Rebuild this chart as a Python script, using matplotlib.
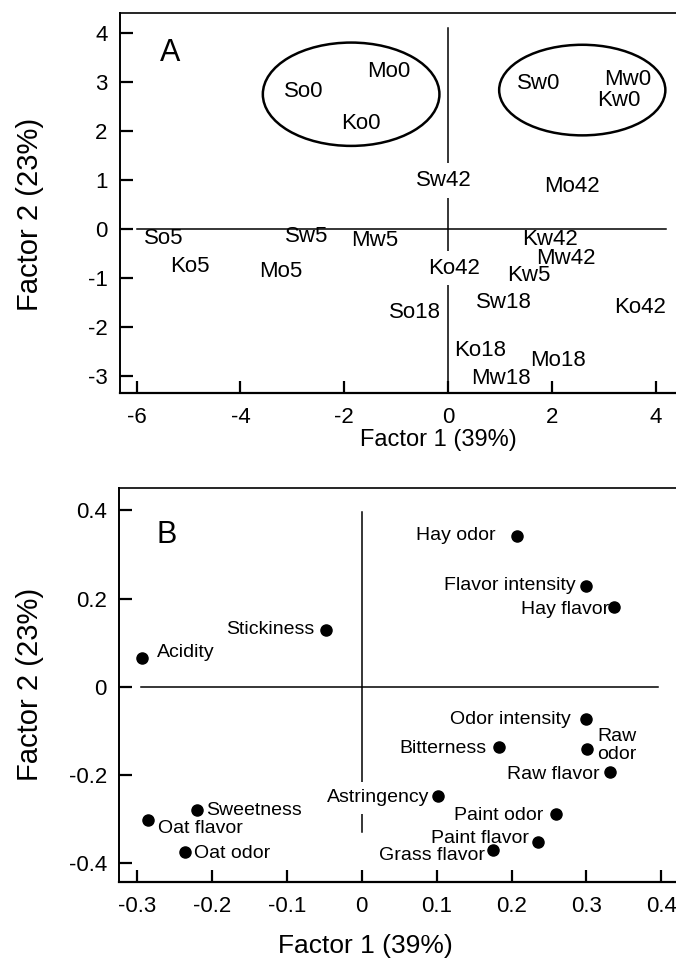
import matplotlib
matplotlib.use("Agg")
import matplotlib.pyplot as plt
from matplotlib.patches import Ellipse

plt.rcParams['font.family'] = ['Liberation Sans', 'DejaVu Sans']

# Panel A: sample scores (label centres)
samples = ['So0', 'Mo0', 'Ko0', 'Sw0', 'Mw0', 'Kw0', 'Sw42', 'Mo42', 'So5', 'Sw5', 'Mw5',
           'Kw42', 'Mw42', 'Ko5', 'Mo5', 'Ko42', 'Kw5', 'Sw18', 'Ko42', 'So18', 'Ko18',
           'Mo18', 'Mw18']
sample_f1 = [-2.78, -1.14, -1.69, 1.75, 3.45, 3.28, -0.08, 2.38, -5.48, -2.73, -1.42,
             1.96, 2.27, -4.98, -3.23, 0.11, 1.56, 1.08, 3.69, -0.65, 0.62, 2.12, 1.02]
sample_f2 = [2.80, 3.21, 2.15, 2.97, 3.04, 2.62, 0.98, 0.86, -0.21, -0.17, -0.24,
             -0.22, -0.61, -0.77, -0.87, -0.81, -0.96, -1.51, -1.62, -1.72, -2.48, -2.70, -3.05]
# labels that sit on the x=0 line (drawn with a white box)
on_axis = [6, 15]

# day-0 groups
group_center_f1 = [-1.87, 2.58]
group_center_f2 = [2.745, 2.83]
group_width = [3.40, 3.20]
group_height = [2.11, 1.85]

# Panel B: attribute loadings
attributes = ['Hay odor', 'Flavor intensity', 'Hay flavor', 'Stickiness', 'Acidity',
              'Odor intensity', 'Bitterness', 'Raw\nodor', 'Raw flavor', 'Astringency',
              'Paint odor', 'Paint flavor', 'Grass flavor', 'Sweetness', 'Oat flavor', 'Oat odor']
load_f1 = [0.208, 0.300, 0.337, -0.047, -0.293, 0.299, 0.183, 0.301, 0.332, 0.102,
           0.260, 0.236, 0.175, -0.220, -0.285, -0.236]
load_f2 = [0.343, 0.229, 0.180, 0.129, 0.066, -0.073, -0.136, -0.141, -0.194, -0.247,
           -0.288, -0.352, -0.369, -0.279, -0.302, -0.374]

# label placement for panel B: (ha, dx px, dy px)
label_pos = [('right', -22, 2.4), ('right', -10.7, 2.4), ('right', -4.7, 0), ('right', -11.7, 2.3),
             ('left', 14.4, 7.7), ('right', -14.7, 1.7), ('right', -12, 0), ('left', 9.7, 5.7),
             ('right', -10.7, 0), ('right', -8.3, 0), ('right', -12.7, 0), ('right', -9.3, 6),
             ('right', -7.3, -4), ('left', 9.3, 1.7), ('left', 9.3, -6), ('left', 9, 0)]

xticks_A = [-6, -4, -2, 0, 2, 4]
yticks_A = [-3, -2, -1, 0, 1, 2, 3, 4]
xticks_B = [-0.3, -0.2, -0.1, 0, 0.1, 0.2, 0.3, 0.4]
xticklabels_B = ['-0.3', '-0.2', '-0.1', '0', '0.1', '0.2', '0.3', '0.4']
yticks_B = [-0.4, -0.2, 0, 0.2, 0.4]
yticklabels_B = ['-0.4', '-0.2', '0', '0.2', '0.4']

W, H = 676, 959
fig = plt.figure(figsize=(W / 100, H / 100), dpi=100)


def style_axes(ax):
    ax.spines['right'].set_visible(False)
    ax.spines['top'].set_linewidth(1.2)
    ax.spines['left'].set_linewidth(1.4)
    ax.spines['bottom'].set_linewidth(1.6)
    ax.tick_params(direction='in', length=9, width=1.6, labelsize=16, top=False, right=False)
    ax.tick_params(axis='x', pad=10)
    ax.tick_params(axis='y', pad=9)


# ---- panel A
axA = fig.add_axes([120 / W, 1 - 392.7 / H, 556 / W, 380 / H])
style_axes(axA)
axA.set_xlim(-6.32, 4.385)
axA.set_ylim(-3.35, 4.41)
axA.set_xticks(xticks_A)
axA.set_xticklabels([str(t) for t in xticks_A])
axA.set_yticks(yticks_A)
axA.set_yticklabels([str(t) for t in yticks_A])
axA.plot([-6.0, 4.2], [0, 0], color='black', lw=1.1, zorder=1)
axA.plot([0, 0], [-3.35, 4.09], color='black', lw=1.1, zorder=1)

for cx, cy, w, h in zip(group_center_f1, group_center_f2, group_width, group_height):
    axA.add_patch(Ellipse((cx, cy), w, h, fill=False, ec='black', lw=1.8))

for i, (name, x, y) in enumerate(zip(samples, sample_f1, sample_f2)):
    kw = {}
    if i in on_axis:
        kw['bbox'] = dict(boxstyle='square,pad=0.3', fc='white', ec='none')
    axA.text(x, y, name, fontsize=16, ha='center', va='center', zorder=3, **kw)

axA.text(-5.36, 3.58, 'A', fontsize=22, ha='center', va='center')

# ---- panel B
axB = fig.add_axes([119.3 / W, 1 - 881.7 / H, 556.7 / W, 393.4 / H])
style_axes(axB)
axB.set_xlim(-0.3236, 0.4196)
axB.set_ylim(-0.4415, 0.45)
axB.set_xticks(xticks_B)
axB.set_xticklabels(xticklabels_B)
axB.set_yticks(yticks_B)
axB.set_yticklabels(yticklabels_B)
axB.plot([-0.294, 0.395], [0, 0], color='black', lw=1.1, zorder=1)
axB.plot([0, 0], [-0.328, 0.397], color='black', lw=1.1, zorder=1)

axB.plot(load_f1, load_f2, 'o', color='black', ms=8, zorder=4)
for name, x, y, (ha, dx, dy) in zip(attributes, load_f1, load_f2, label_pos):
    kw = {}
    if name == 'Astringency':
        kw['bbox'] = dict(boxstyle='square,pad=0.4', fc='white', ec='none')
    axB.annotate(name, (x, y), xytext=(dx * 0.72, dy * 0.72), textcoords='offset points',
                 ha=ha, va='center_baseline', fontsize=14, multialignment='center',
                 linespacing=1.05, zorder=3, **kw)

axB.text(-0.261, 0.344, 'B', fontsize=22, ha='center', va='center')

# axis titles
fig.text(438 / W, 1 - 440 / H, 'Factor 1 (39%)', fontsize=17, ha='center', va='center')
fig.text(365 / W, 1 - 946 / H, 'Factor 1 (39%)', fontsize=19, ha='center', va='center')
fig.text(30 / W, 1 - 214 / H, 'Factor 2 (23%)', fontsize=21, rotation=90, ha='center', va='center')
fig.text(30 / W, 1 - 684 / H, 'Factor 2 (23%)', fontsize=21, rotation=90, ha='center', va='center')

fig.savefig('out.png', dpi=100)
